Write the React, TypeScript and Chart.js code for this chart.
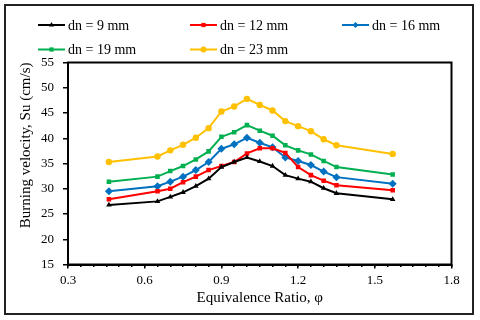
import React, { useEffect, useRef } from "react";
import { Chart, registerables } from "chart.js";
import { drawPoint } from "chart.js/helpers";

Chart.register(...registerables);

const phi = [0.46, 0.65, 0.7, 0.75, 0.8, 0.85, 0.9, 0.95, 1.0, 1.05, 1.1, 1.15, 1.2, 1.25, 1.3, 1.35, 1.57];
const su9 = [26.8, 27.5, 28.4, 29.3, 30.5, 32.0, 34.3, 35.3, 36.2, 35.4, 34.5, 32.7, 32.0, 31.4, 30.1, 29.1, 27.9];
const su12 = [27.9, 29.5, 30.0, 31.3, 32.4, 33.7, 34.5, 35.3, 37.0, 38.0, 38.0, 37.1, 34.3, 32.7, 31.6, 30.7, 29.7];
const su16 = [29.5, 30.5, 31.4, 32.4, 33.7, 35.3, 37.9, 38.8, 40.1, 39.1, 38.2, 36.2, 35.5, 34.7, 33.4, 32.3, 31.0];
const su19 = [31.4, 32.4, 33.5, 34.5, 35.8, 37.4, 40.3, 41.2, 42.6, 41.5, 40.5, 38.6, 37.6, 36.8, 35.5, 34.3, 32.8];
const su23 = [35.3, 36.4, 37.6, 38.7, 40.1, 42.0, 45.3, 46.3, 47.8, 46.6, 45.5, 43.4, 42.4, 41.4, 39.8, 38.6, 36.9];

const seriesLabels = ["dn = 9 mm", "dn = 12 mm", "dn = 16 mm", "dn = 19 mm", "dn = 23 mm"];
const seriesColors = ["#000000", "#FF0000", "#0070C0", "#00B050", "#FFC000"];
const seriesMarkers = ["triangle", "rect", "rectRot", "rect", "circle"];
const seriesValues = [su9, su12, su16, su19, su23];

const xMajorTicks = [0.3, 0.6, 0.9, 1.2, 1.5, 1.8];
const xMinorTicks = [
  0.3, 0.35, 0.4, 0.45, 0.5, 0.55, 0.6, 0.65, 0.7, 0.75, 0.8, 0.85, 0.9, 0.95, 1.0, 1.05,
  1.1, 1.15, 1.2, 1.25, 1.3, 1.35, 1.4, 1.45, 1.5, 1.55, 1.6, 1.65, 1.7, 1.75, 1.8,
];
const yTicks = [15, 20, 25, 30, 35, 40, 45, 50, 55];

const xTitle = "Equivalence Ratio, φ";
const yTitle = "Burning velocity, Su (cm/s)";

const FONT = "'Liberation Serif', 'Times New Roman', serif";

export default function App() {
  const ref = useRef<HTMLCanvasElement | null>(null);

  useEffect(() => {
    if (!ref.current) return;
    Chart.defaults.font.family = FONT;
    Chart.defaults.color = "#000";

    const framePlugin = {
      id: "framePlugin",
      beforeDraw(chart: any) {
        const ctx = chart.ctx;
        ctx.save();
        ctx.fillStyle = "#fff";
        ctx.fillRect(0, 0, chart.width, chart.height);
        ctx.restore();
      },
      afterDraw(chart: any) {
        const ctx = chart.ctx;
        const a = chart.chartArea;
        ctx.save();
        ctx.strokeStyle = "#000";
        ctx.lineWidth = 2;
        ctx.strokeRect(a.left, a.top, a.right - a.left, a.bottom - a.top);
        ctx.strokeStyle = "#222";
        ctx.lineWidth = 2;
        ctx.strokeRect(5, 5, 468, 309);
        // legend in a grid
        ctx.font = `14px ${FONT}`;
        ctx.textBaseline = "middle";
        ctx.textAlign = "left";
        seriesLabels.forEach((label, i) => {
          const col = i % 3;
          const row = Math.floor(i / 3);
          const x0 = 38 + col * 152;
          const y = 25 + row * 24.5;
          ctx.strokeStyle = seriesColors[i];
          ctx.lineWidth = 2;
          ctx.beginPath();
          ctx.moveTo(x0, y);
          ctx.lineTo(x0 + 27, y);
          ctx.stroke();
          ctx.fillStyle = seriesColors[i];
          drawPoint(ctx, { pointStyle: seriesMarkers[i], radius: 3, rotation: 0, borderWidth: 0 } as any, x0 + 13.5, y);
          ctx.fillStyle = "#000";
          ctx.fillText(label, x0 + 30, y + 1);
        });
        ctx.restore();
      },
    };

    const chart = new Chart(ref.current, {
      type: "line",
      data: {
        datasets: seriesValues.map((vals, i) => ({
          label: seriesLabels[i],
          data: vals.map((v, j) => ({ x: phi[j], y: v })),
          borderColor: seriesColors[i],
          backgroundColor: seriesColors[i],
          pointBackgroundColor: seriesColors[i],
          pointBorderColor: seriesColors[i],
          pointStyle: seriesMarkers[i] as any,
          pointRadius: i === 2 ? 4 : 3.2,
          pointBorderWidth: 0,
          borderWidth: 2,
          tension: 0,
          fill: false,
        })),
      },
      options: {
        animation: false,
        responsive: false,
        devicePixelRatio: 1,
        layout: { padding: { top: 62.5, right: 28.5, left: 0, bottom: 0 } },
        plugins: {
          legend: { display: false },
          tooltip: { enabled: false },
        },
        scales: {
          x: {
            type: "linear",
            position: "bottom",
            min: 0.3,
            max: 1.8,
            weight: 1,
            afterBuildTicks: (s: any) => {
              s.ticks = xMajorTicks.map((v) => ({ value: v }));
            },
            afterFit: (s: any) => {
              s.height = 55.5;
            },
            ticks: {
              font: { size: 13, family: FONT },
              color: "#000",
              padding: 4,
              callback: (v: any) => Number(v).toFixed(1),
              maxRotation: 0,
              autoSkip: false,
            },
            grid: { drawOnChartArea: false, drawTicks: true, tickLength: 4, color: "#000", lineWidth: 1.5 },
            border: { display: true, color: "#000", width: 2 },
            title: {
              display: true,
              text: xTitle,
              font: { size: 15, family: FONT },
              color: "#000",
              padding: { top: 0, bottom: 13 },
            },
          },
          xMinor: {
            type: "linear",
            position: "bottom",
            min: 0.3,
            max: 1.8,
            weight: 0,
            afterBuildTicks: (s: any) => {
              s.ticks = xMinorTicks.map((v) => ({ value: v }));
            },
            afterFit: (s: any) => {
              s.height = 0;
            },
            ticks: { display: false },
            grid: { drawOnChartArea: false, drawTicks: true, tickLength: 2.5, color: "#000", lineWidth: 1.5 },
            border: { display: false },
          },
          y: {
            type: "linear",
            position: "left",
            min: 15,
            max: 55,
            afterBuildTicks: (s: any) => {
              s.ticks = yTicks.map((v) => ({ value: v }));
            },
            afterFit: (s: any) => {
              s.width = 68;
            },
            ticks: {
              font: { size: 13, family: FONT },
              color: "#000",
              padding: 9,
              autoSkip: false,
            },
            grid: { drawOnChartArea: false, drawTicks: true, tickLength: 5, color: "#000", lineWidth: 1.5 },
            border: { display: true, color: "#000", width: 2 },
            title: {
              display: true,
              text: yTitle,
              align: "end",
              font: { size: 15, family: FONT },
              color: "#000",
              padding: { top: 17, bottom: 0 },
            },
          },
        },
      } as any,
      plugins: [framePlugin],
    });

    return () => chart.destroy();
  }, []);

  return (
    <div style={{ position: "absolute", left: 0, top: 0, width: 480, height: 320 }}>
      <canvas ref={ref} width={480} height={320} style={{ width: 480, height: 320, display: "block" }} />
    </div>
  );
}
